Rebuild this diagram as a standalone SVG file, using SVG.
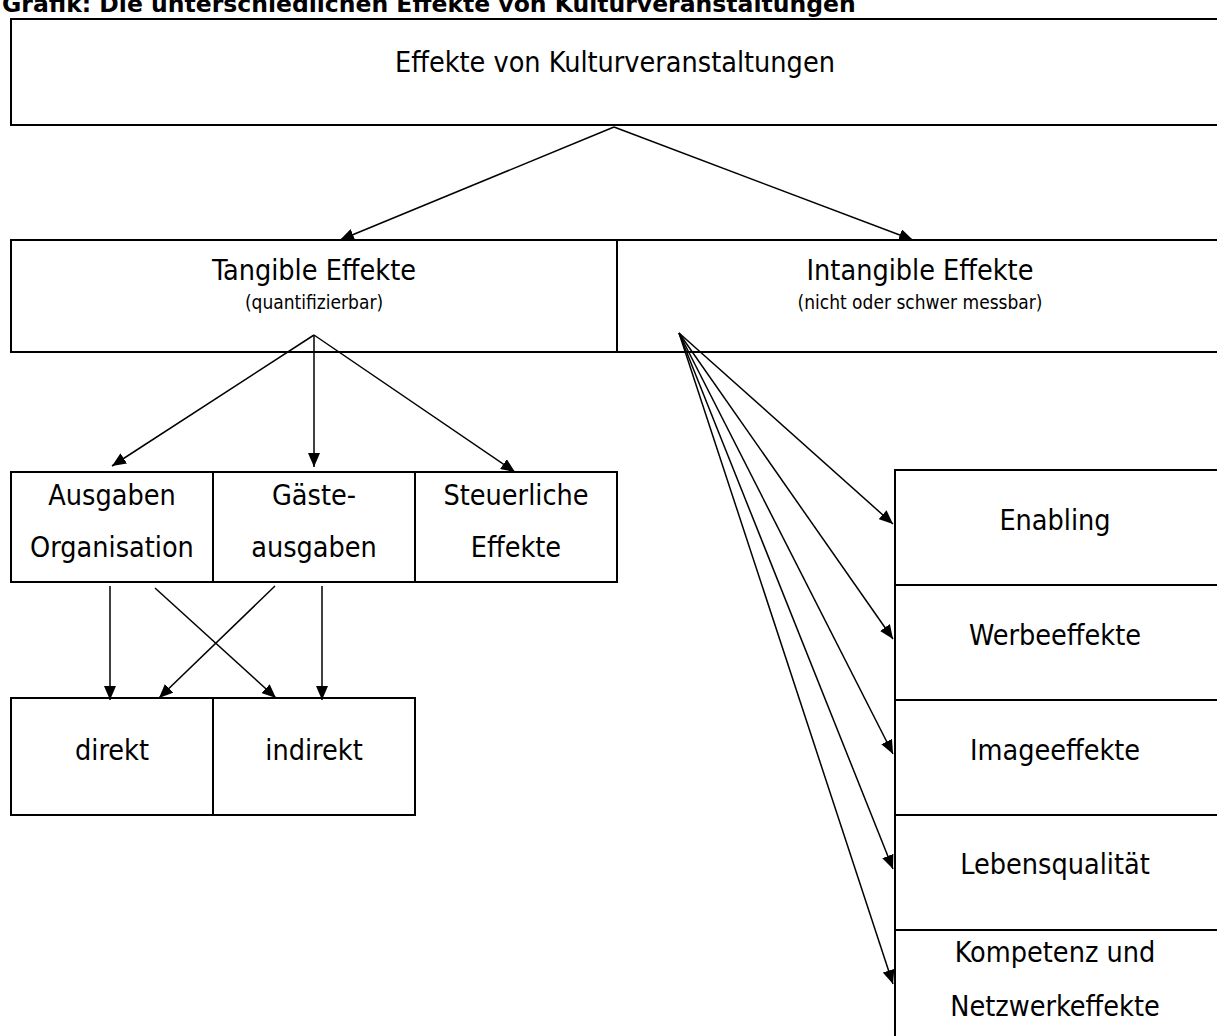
<svg xmlns="http://www.w3.org/2000/svg" width="1217" height="1036" viewBox="0 0 1217 1036">
<defs>
<style>
.box{fill:#fff;stroke:#000;stroke-width:2}
.t{font-family:"DejaVu Sans Condensed","DejaVu Sans",sans-serif;font-size:28.5px;fill:#000;text-anchor:middle}
.s{font-family:"DejaVu Sans Condensed","DejaVu Sans",sans-serif;font-size:19px;fill:#000;text-anchor:middle}
.title{font-family:"DejaVu Sans","Liberation Sans",sans-serif;font-size:23.5px;font-weight:bold;fill:#000}
.c{stroke:#000;stroke-width:1.5;fill:none;marker-end:url(#ah)}
</style>
<marker id="ah" viewBox="0 0 14 12" refX="14" refY="6" markerWidth="14" markerHeight="12" markerUnits="userSpaceOnUse" orient="auto">
<path d="M0,0 L14,6 L0,12 z" fill="#000"/>
</marker>
</defs>
<rect width="1217" height="1036" fill="#fff"/>
<text class="title" x="2" y="12">Grafik: Die unterschiedlichen Effekte von Kulturveranstaltungen</text>
<g id="n-root"><rect class="box" x="11" y="19" width="1220" height="106"/><text class="t" x="615" y="72">Effekte von Kulturveranstaltungen</text></g>
<g id="n-tangible"><rect class="box" x="11" y="240" width="606" height="112"/><text class="t" x="314" y="280">Tangible Effekte</text><text class="s" x="314" y="309">(quantifizierbar)</text></g>
<g id="n-intangible"><rect class="box" x="617" y="240" width="614" height="112"/><text class="t" x="920" y="280">Intangible Effekte</text><text class="s" x="920" y="309">(nicht oder schwer messbar)</text></g>
<g id="n-ausgaben"><rect class="box" x="11" y="472" width="202" height="110"/><text class="t" x="112" y="505">Ausgaben</text><text class="t" x="112" y="557">Organisation</text></g>
<g id="n-gaeste"><rect class="box" x="213" y="472" width="202" height="110"/><text class="t" x="314" y="505">Gäste-</text><text class="t" x="314" y="557">ausgaben</text></g>
<g id="n-steuer"><rect class="box" x="415" y="472" width="202" height="110"/><text class="t" x="516" y="505">Steuerliche</text><text class="t" x="516" y="557">Effekte</text></g>
<g id="n-direkt"><rect class="box" x="11" y="698" width="202" height="117"/><text class="t" x="112" y="760">direkt</text></g>
<g id="n-indirekt"><rect class="box" x="213" y="698" width="202" height="117"/><text class="t" x="314" y="760">indirekt</text></g>
<g id="n-enabling"><rect class="box" x="895" y="470" width="336" height="115"/><text class="t" x="1055" y="530">Enabling</text></g>
<g id="n-werbe"><rect class="box" x="895" y="585" width="336" height="115"/><text class="t" x="1055" y="645">Werbeeffekte</text></g>
<g id="n-image"><rect class="box" x="895" y="700" width="336" height="115"/><text class="t" x="1055" y="760">Imageeffekte</text></g>
<g id="n-leben"><rect class="box" x="895" y="815" width="336" height="115"/><text class="t" x="1055" y="874">Lebensqualität</text></g>
<g id="n-kompetenz"><rect class="box" x="895" y="930" width="336" height="120"/><text class="t" x="1055" y="962">Kompetenz und</text><text class="t" x="1055" y="1016">Netzwerkeffekte</text></g>
<g id="connectors">
<line class="c" x1="614" y1="127" x2="340" y2="240"/>
<line class="c" x1="614" y1="127" x2="913" y2="240"/>
<line class="c" x1="314" y1="335" x2="112" y2="466"/>
<line class="c" x1="314" y1="335" x2="314" y2="467"/>
<line class="c" x1="314" y1="335" x2="515" y2="472"/>
<line class="c" x1="110" y1="586" x2="110" y2="700"/>
<line class="c" x1="155" y1="588" x2="276" y2="698"/>
<line class="c" x1="275" y1="586" x2="159" y2="698"/>
<line class="c" x1="322" y1="586" x2="322" y2="700"/>
<line class="c" x1="679" y1="333" x2="893" y2="524"/>
<line class="c" x1="679" y1="333" x2="893" y2="639"/>
<line class="c" x1="679" y1="333" x2="893" y2="754"/>
<line class="c" x1="679" y1="333" x2="893" y2="869"/>
<line class="c" x1="679" y1="333" x2="893" y2="984"/>
</g>
</svg>
